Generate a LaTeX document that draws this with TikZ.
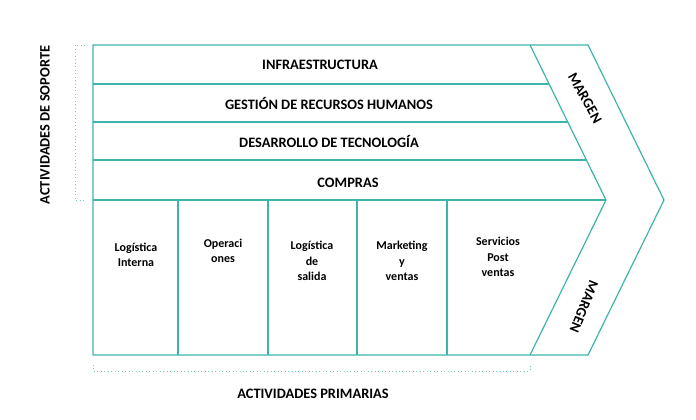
\documentclass[tikz,border=0pt]{standalone}
\usepackage{fontspec}
\setmainfont{Carlito}
\definecolor{teal1}{HTML}{3DB5AA}
\begin{document}
\begin{tikzpicture}[x=0.75pt,y=-0.75pt,
    line/.style={draw=teal1, line width=0.9pt},
    brack/.style={draw=teal1!70, dotted, line width=0.6pt},
    lbl/.style={font=\bfseries\fontsize{10.8}{13}\selectfont},
    box/.style={font=\bfseries\fontsize{9}{11.5}\selectfont, align=center, text width=55pt}]
    \useasboundingbox (0,0) rectangle (696,419);
    % outer chevron
    \draw[line] (93,45) -- (588,45) -- (664,200) -- (588,355) -- (93,355) -- cycle;
    % inner chevron
    \draw[line] (530,45) -- (606,200) -- (530,355);
    % support rows
    \foreach \y in {84,122,160,200}
        \draw[line] (93,\y) -- ({530+(\y-45)*76/155},\y);
    % primary columns
    \foreach \x in {178,268,357,447}
        \draw[line] (\x,200) -- (\x,355);

    \node[lbl] (infra) at (320,65) {INFRAESTRUCTURA};
    \node[lbl] (rrhh) at (329,103) {GESTIÓN DE RECURSOS HUMANOS};
    \node[lbl] (tec) at (329,141) {DESARROLLO DE TECNOLOGÍA};
    \node[lbl] (comp) at (348,183) {COMPRAS};

    \node[box] (login) at (136,255) {Logística\\Interna};
    \node[box] (oper) at (223,251) {Operaci\\ones};
    \node[box] (logout) at (312,261) {Logística\\de\\salida};
    \node[box] (mkt) at (402,261) {Marketing\\y\\ventas};
    \node[box] (serv) at (498,257) {Servicios\\Post\\ventas};

    \node[lbl, rotate=-61] (mtop) at (585,98) {MARGEN};
    \node[lbl, rotate=-112] (mbot) at (584,307) {MARGEN};

    % brackets
    \draw[brack] (85,45) -- (75,45) -- (75,200) -- (85,200);
    \draw[brack] (93,365) -- (93,371) -- (530,371) -- (530,365);
    \node[lbl, rotate=90] (sop) at (45,125) {ACTIVIDADES DE SOPORTE};
    \node[lbl] (prim) at (313,394) {ACTIVIDADES PRIMARIAS};
\end{tikzpicture}
\end{document}
